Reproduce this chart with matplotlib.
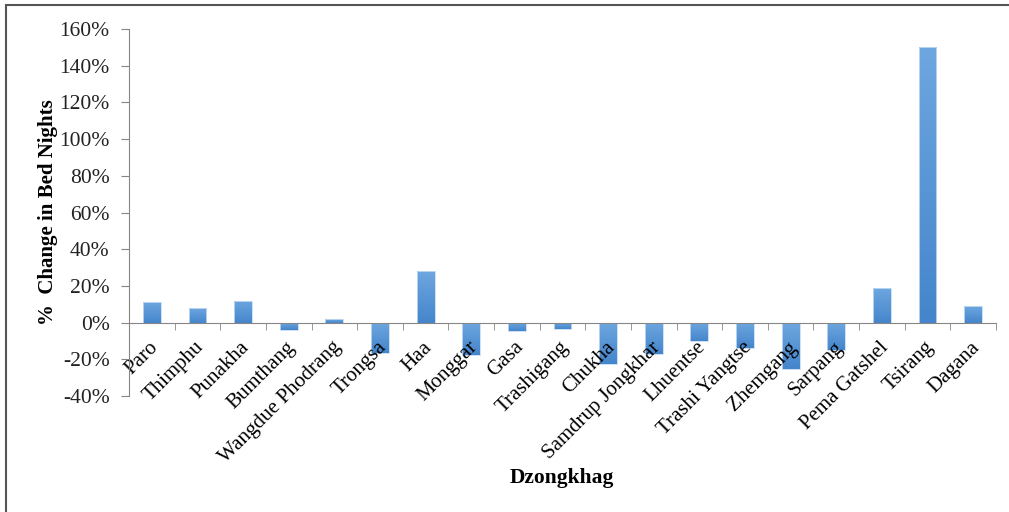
import numpy as np
import matplotlib
matplotlib.use("Agg")
import matplotlib.pyplot as plt
import matplotlib.transforms as mtransforms
from matplotlib.colors import LinearSegmentedColormap
from matplotlib.patches import Rectangle
from matplotlib.ticker import FixedLocator, PercentFormatter

# Percentage change in bed nights by dzongkhag
dzongkhags = ["Paro", "Thimphu", "Punakha", "Bumthang", "Wangdue Phodrang",
              "Trongsa", "Haa", "Monggar", "Gasa", "Trashigang", "Chukha",
              "Samdrup Jongkhar", "Lhuentse", "Trashi Yangtse", "Zhemgang",
              "Sarpang", "Pema Gatshel", "Tsirang", "Dagana"]
pct_change = [11, 8, 12, -4, 2, -16.5, 28, -17.5, -4.5, -3.5, -22.5,
              -17, -10, -14, -25.5, -15, 19, 150, 9]
y_ticks = [-40, -20, 0, 20, 40, 60, 80, 100, 120, 140, 160]

plt.rcParams["font.family"] = ["Liberation Serif", "DejaVu Serif"]
plt.rcParams["axes.unicode_minus"] = False

fig = plt.figure(figsize=(10.09, 5.12), dpi=100)
ax = fig.add_axes([129 / 1009, 1 - 396 / 512, 867 / 1009, 367 / 512])

x = np.arange(len(dzongkhags))
bars = ax.bar(x, pct_change, width=0.39, color="none", edgecolor="#c4dbf2",
              linewidth=0.6, zorder=1.5)

# vertical gradient fill for each bar
grad_cmap = LinearSegmentedColormap.from_list("bar_grad", ["#4485cb", "#6ea7e0"])
grad = np.linspace(0, 1, 256).reshape(-1, 1)
for b in bars:
    x0, y0 = b.get_x(), b.get_y()
    w, h = b.get_width(), b.get_height()
    lo, hi = min(y0, y0 + h), max(y0, y0 + h)
    im = ax.imshow(grad, cmap=grad_cmap, aspect="auto", origin="lower",
                   extent=(x0, x0 + w, lo, hi), zorder=1, interpolation="bilinear")
    im.set_clip_path(b)

ax.set_xlim(-0.5, len(dzongkhags) - 0.5)
ax.set_ylim(-40, 160)

axis_gray = "#868686"
for side in ("top", "right"):
    ax.spines[side].set_visible(False)
ax.spines["bottom"].set_position(("data", 0))
ax.spines["bottom"].set_color(axis_gray)
ax.spines["left"].set_color(axis_gray)

ax.set_yticks(y_ticks)
ax.yaxis.set_major_formatter(PercentFormatter(decimals=0))
ax.tick_params(axis="y", direction="out", length=6, color=axis_gray,
               labelsize=15.5, labelcolor="#222222", pad=8)

ax.set_xticks(x)
ax.set_xticklabels(dzongkhags, rotation=45, ha="right", va="top",
                   rotation_mode="anchor")
ax.xaxis.set_minor_locator(FixedLocator(np.arange(-0.5, len(dzongkhags), 1.0)))
ax.tick_params(axis="x", which="major", length=0, labelsize=15, pad=11)
ax.tick_params(axis="x", which="minor", direction="out", length=5, color=axis_gray)
shift = mtransforms.ScaledTranslation(-3 / 100, 0, fig.dpi_scale_trans)
for lbl in ax.get_xticklabels():
    lbl.set_transform(lbl.get_transform() + shift)

ax.set_ylabel("%  Change in Bed Nights", fontsize=15, fontweight="bold")
ax.yaxis.set_label_coords(-0.082, 0.5)
fig.text(562 / 1009, 1 - 478 / 512, "Dzongkhag", ha="center", va="center",
         fontsize=15.5, fontweight="bold")

# outer frame (top and left edges)
fig.patches.append(Rectangle((6 / 1009, -0.1), 1.2, 1 - 5 / 512 + 0.1,
                             transform=fig.transFigure, fill=False,
                             edgecolor="#555555", linewidth=1.5))

fig.savefig("out.png", dpi=100)
